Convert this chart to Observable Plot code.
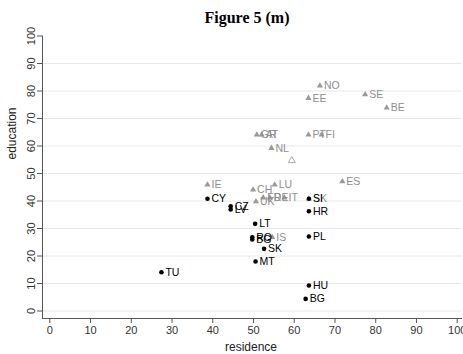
<!DOCTYPE html>
<html>
<head>
<meta charset="utf-8">
<script src="https://cdn.jsdelivr.net/npm/d3@7"></script>
<script src="https://cdn.jsdelivr.net/npm/@observablehq/plot@0.6"></script>
<style>
  html, body { margin: 0; padding: 0; background: #fff; }
  #title { width: 463px; height: 30px; box-sizing: border-box; padding-top: 10px; padding-left: 31px;
           text-align: center; font: bold 16px/16px "Liberation Serif", "Times New Roman", serif; color: #000; }
  #chart svg { display: block; overflow: visible; }
</style>
</head>
<body>
<div id="title">Figure 5 (m)</div>
<div id="chart"></div>
<script>
// Grey triangles
const triLabel     = ["NO","EE","SE","BE","GR","AT","PT","FI","NL","IE","CH","LU","ES","UK","FR","DE","IT","SK","IS"];
const triResidence = [66.3,63.5,77.4,82.7,50.8,52.0,63.5,66.7,54.4,38.7,49.9,55.2,71.8,50.6,52.4,54.0,57.6,63.6,54.6];
const triEducation = [81.9,77.4,78.7,73.9,64.1,64.1,64.1,64.1,59.2,45.9,44.1,45.9,47.1,39.8,41.2,41.2,41.2,40.8,26.8];
// Hollow (unlabelled) triangle
const hollowResidence = [59.4];
const hollowEducation = [54.7];
// Black dots
const dotLabel     = ["CY","CZ","LV","SI","HR","LT","RO","BG","PL","SK","MT","TU","HU","BG"];
const dotResidence = [38.7,44.4,44.4,63.6,63.6,50.4,49.7,49.7,63.6,52.6,50.5,27.4,63.6,62.8];
const dotEducation = [40.8,38.1,36.9,40.8,36.3,31.7,26.8,26.0,27.1,22.6,18.0,14.1,9.3,4.4];
// Axes
const ticks = [0,10,20,30,40,50,60,70,80,90,100];
const gridTicks = [0,10,20,30,40,50,60,70,80,90];

const tri = triLabel.map((l,i)=>({label:l, x:triResidence[i], y:triEducation[i]}));
const hollow = hollowResidence.map((x,i)=>({x, y:hollowEducation[i]}));
const dots = dotLabel.map((l,i)=>({label:l, x:dotResidence[i], y:dotEducation[i]}));

// axis line positions (offset Stata-style axes), in data units
const axisXpos = -1.792, axisYpos = -2.727, axisXend = 101.3;

const grey = "#999999";
const chart = Plot.plot({
  width: 463, height: 324,
  marginLeft: 42, marginRight: 1, marginTop: 5.5, marginBottom: 36,
  x: {domain: [0,100], insetLeft: 7.3, insetRight: 5.3},
  y: {domain: [0,100], insetBottom: 7.5},
  style: {fontFamily: "'Liberation Sans', Arial, Helvetica, sans-serif", fontSize: "11px", color: "#222", background: "#fff", overflow: "visible"},
  marks: [
    Plot.gridY(gridTicks, {stroke: "#e8e8e8", strokeOpacity: 1}),
    Plot.ruleX([axisXpos], {y1: axisYpos, y2: 100, stroke: "#555", clip: false}),
    Plot.ruleY([axisYpos], {x1: axisXpos, x2: axisXend, stroke: "#555", clip: false}),
    Plot.axisY(ticks, {tickSize: 5, tickRotate: -90, tickPadding: 3, fontSize: 11, label: null, stroke: "#555", fill: "#333"}),
    Plot.axisX(ticks, {tickSize: 5, tickPadding: 3, fontSize: 11, label: null, stroke: "#555", fill: "#333"}),
    Plot.text(["education"], {frameAnchor: "left", rotate: -90, dx: -30.3, dy: -17.75, fontSize: 12, fill: "#222"}),
    Plot.text(["residence"], {frameAnchor: "bottom", dx: -1.5, dy: 29, lineAnchor: "middle", fontSize: 12, fill: "#222"}),
    Plot.dot(hollow, {x: "x", y: "y", symbol: "triangle", r: 2.6, stroke: "#aaaaaa", fill: "none", strokeWidth: 1}),
    Plot.dot(tri, {x: "x", y: "y", symbol: "triangle", r: 2.3, fill: grey, stroke: "none"}),
    Plot.text(tri, {x: "x", y: "y", text: "label", dx: 4, textAnchor: "start", lineAnchor: "middle", fontSize: 10.5, fill: "#8e8e8e"}),
    Plot.dot(dots, {x: "x", y: "y", r: 2.3, fill: "#000", stroke: "none"}),
    Plot.text(dots, {x: "x", y: "y", text: "label", dx: 4, textAnchor: "start", lineAnchor: "middle", fontSize: 10.5, fill: "#000"})
  ]
});
document.getElementById("chart").appendChild(chart);
</script>
</body>
</html>
